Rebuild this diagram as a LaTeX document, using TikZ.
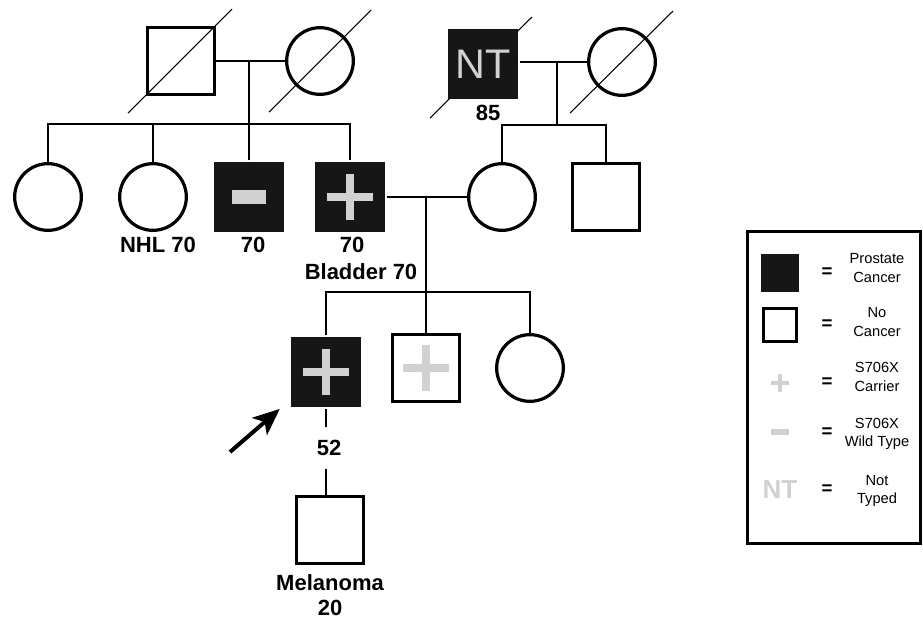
\documentclass[tikz,border=0pt]{standalone}
\usepackage{fontspec}
\setmainfont{Liberation Sans}
\usepackage{tikz}
\usetikzlibrary{arrows.meta, positioning, backgrounds}
\definecolor{marker}{RGB}{208,210,209}
\definecolor{affblack}{RGB}{22,22,22}

\begin{document}
\begin{tikzpicture}[x=0.75pt,y=-0.75pt,>={Stealth[length=20pt,width=17pt,inset=5pt]},
        male/.style={rectangle,draw,line width=2.4pt,minimum size=50pt,inner sep=0pt,fill=white},
        female/.style={circle,draw,line width=2.4pt,minimum size=50pt,inner sep=0pt},
        affected/.style={draw=none,fill=affblack,minimum size=53pt,inner sep=0pt},
        plussign/.style={path picture={
            \fill[marker] (path picture bounding box.center) ++(-17pt,-3pt) rectangle ++(34pt,6pt);
            \fill[marker] (path picture bounding box.center) ++(-3pt,-17pt) rectangle ++(6pt,34pt);}},
        minussign/.style={path picture={
            \fill[marker] (path picture bounding box.center) ++(-12.75pt,-4.9pt) rectangle ++(25.5pt,9.8pt);}},
        keyplus/.style={fill=white,minimum size=16pt,inner sep=0pt,path picture={
            \fill[marker] (path picture bounding box.center) ++(-6.75pt,-1.6pt) rectangle ++(13.5pt,3.2pt);
            \fill[marker] (path picture bounding box.center) ++(-1.6pt,-6.75pt) rectangle ++(3.2pt,13.5pt);}},
        keyminus/.style={fill=white,minimum size=16pt,inner sep=0pt,path picture={
            \fill[marker] (path picture bounding box.center) ++(-6.5pt,-2.5pt) rectangle ++(13pt,5pt);}},
        line/.style={line width=0.9pt},
        deceased/.style={line width=0.8pt},
        age/.style={font=\bfseries\fontsize{16.5}{19}\selectfont,inner sep=1pt},
        key/.style={font=\fontsize{11}{14}\selectfont,align=center,inner sep=0pt},
        equals/.style={font=\bfseries\fontsize{14}{16}\selectfont,inner sep=0pt}]

    \useasboundingbox (0,0) rectangle (923,619);

    % generation I
    \node[male] (I1) at (181,61) {};
    \node[female] (I2) at (320,61) {};
    \node[male,affected,text=marker,font=\fontsize{31}{31}\selectfont] (I3) at (483,64) {NT};
    \node[female] (I4) at (622,62) {};

    % generation II
    \node[female] (II1) at (48,197) {};
    \node[female] (II2) at (153,197) {};
    \node[male,affected,minussign] (II3) at (249,197) {};
    \node[male,affected,plussign] (II4) at (350,197) {};
    \node[female] (II5) at (502,197) {};
    \node[male] (II6) at (606,197) {};

    % generation III and IV
    \node[male,affected,plussign] (III1) at (326,372) {};
    \node[male,plussign] (III2) at (426,368) {};
    \node[female] (III3) at (530,368) {};
    \node[male] (IV1) at (330,530) {};

    % labels
    \node[age] (lbII2) at (158,245) {NHL 70};
    \node[age] (lbII3) at (253,245) {70};
    \node[age] (lbII4) at (352,245) {70};
    \node[age] (lbII4b) at (361,272) {Bladder 70};
    \node[age] (lbI3) at (488,113) {85};
    \node[age,minimum height=31pt] (lbIII1) at (329,448) {52};
    \node[age,align=center] (lbIV1) at (330,595) {Melanoma\\20};

    % matings and sibships
    \coordinate (m1) at (249,61);
    \coordinate (s1) at (249,124);
    \draw[line] (I1) -- (I2);
    \draw[line] (m1) -- (s1);
    \draw[line] (II1.north) -- (II1.north |- s1) -- (II4.north |- s1) -- (II4.north);
    \draw[line] (II2.north) -- (II2.north |- s1);
    \draw[line] (II3.north) -- (II3.north |- s1);

    \coordinate (m2) at (557,62);
    \coordinate (s2) at (557,125);
    \draw[line] (I3.east |- m2) -- (I4.west |- m2);
    \draw[line] (m2) -- (s2);
    \draw[line] (II5.north) -- (II5.north |- s2) -- (II6.north |- s2) -- (II6.north);

    \coordinate (m3) at (426,197);
    \coordinate (s3) at (426,292);
    \draw[line] (II4) -- (II5);
    \draw[line] (m3) -- (III2.north);
    \draw[line] (III1.north) -- (III1.north |- s3) -- (III3.north |- s3) -- (III3.north);

    \draw[line] (III1.south) -- (III1.south |- lbIII1.north);
    \draw[line] (III1.south |- lbIII1.south) -- (III1.south |- IV1.north);

    % deceased
    \draw[deceased] (I1.center) ++(-53,52) -- ++(104,-104);
    \draw[deceased] (I2.center) ++(-51,51) -- ++(102,-102);
    \begin{pgfonlayer}{background}
        \draw[deceased] (I3.center) ++(-53,54) -- ++(102,-101);
    \end{pgfonlayer}
    \draw[deceased] (I4.center) ++(-52,51) -- ++(103,-102);

    % proband
    \coordinate (ptr) at (230,452);
    \draw[->,line width=3pt] (ptr) -- ([xshift=-7pt]III1.south west);

    % legend
    \node[draw,line width=2.2pt,minimum width=129.75pt,minimum height=234pt] (keybox) at (834,387.5) {};
    \node[affected,minimum size=28.5pt] (kaff) at (780,273) {};
    \node[male,line width=2.2pt,minimum size=25pt] (kunaff) at (780,325) {};
    \node[keyplus] (kplus) at (780,383) {};
    \node[keyminus] (kminus) at (780,432) {};
    \node[text=marker,font=\bfseries\fontsize{19.5}{20}\selectfont,inner sep=0pt] (knt) at (780,490) {NT};

    \node[equals] (eq1) at (827,273) {=};
    \node[equals] (eq2) at (827,325) {=};
    \node[equals] (eq3) at (827,383) {=};
    \node[equals] (eq4) at (827,433) {=};
    \node[equals] (eq5) at (827,490) {=};

    \node[key] (t1) at (877,268) {Prostate\\Cancer};
    \node[key] (t2) at (877,322) {No\\Cancer};
    \node[key] (t3) at (877,377) {S706X\\Carrier};
    \node[key] (t4) at (877,434) {S706X\\Wild Type};
    \node[key] (t5) at (877,491) {Not\\Typed};
\end{tikzpicture}
\end{document}
